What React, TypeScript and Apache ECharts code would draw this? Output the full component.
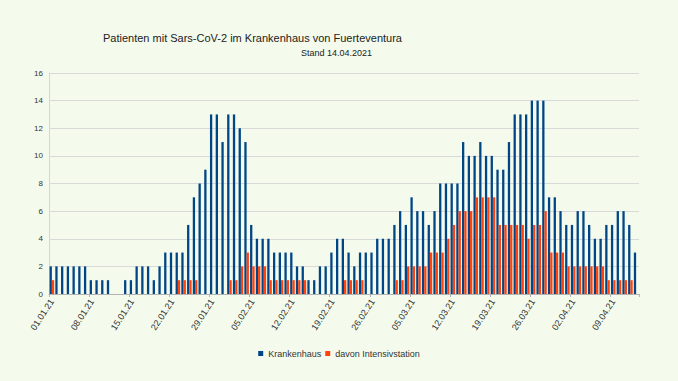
import React, { useEffect, useRef } from "react";
import * as echarts from "echarts";

const dates: string[] = [
  "01.01.21","02.01.21","03.01.21","04.01.21","05.01.21","06.01.21","07.01.21",
  "08.01.21","09.01.21","10.01.21","11.01.21","12.01.21","13.01.21","14.01.21",
  "15.01.21","16.01.21","17.01.21","18.01.21","19.01.21","20.01.21","21.01.21",
  "22.01.21","23.01.21","24.01.21","25.01.21","26.01.21","27.01.21","28.01.21",
  "29.01.21","30.01.21","31.01.21","01.02.21","02.02.21","03.02.21","04.02.21",
  "05.02.21","06.02.21","07.02.21","08.02.21","09.02.21","10.02.21","11.02.21",
  "12.02.21","13.02.21","14.02.21","15.02.21","16.02.21","17.02.21","18.02.21",
  "19.02.21","20.02.21","21.02.21","22.02.21","23.02.21","24.02.21","25.02.21",
  "26.02.21","27.02.21","28.02.21","01.03.21","02.03.21","03.03.21","04.03.21",
  "05.03.21","06.03.21","07.03.21","08.03.21","09.03.21","10.03.21","11.03.21",
  "12.03.21","13.03.21","14.03.21","15.03.21","16.03.21","17.03.21","18.03.21",
  "19.03.21","20.03.21","21.03.21","22.03.21","23.03.21","24.03.21","25.03.21",
  "26.03.21","27.03.21","28.03.21","29.03.21","30.03.21","31.03.21","01.04.21",
  "02.04.21","03.04.21","04.04.21","05.04.21","06.04.21","07.04.21","08.04.21",
  "09.04.21","10.04.21","11.04.21","12.04.21","13.04.21",
];

const krankenhaus: number[] = [
  2, 2, 2, 2, 2, 2, 2,
  1, 1, 1, 1, 0, 0, 1,
  1, 2, 2, 2, 1, 2, 3,
  3, 3, 3, 5, 7, 8, 9,
  13, 13, 11, 13, 13, 12, 11,
  5, 4, 4, 4, 3, 3, 3,
  3, 2, 2, 1, 1, 2, 2,
  3, 4, 4, 3, 2, 3, 3,
  3, 4, 4, 4, 5, 6, 5,
  7, 6, 6, 5, 6, 8, 8,
  8, 8, 11, 10, 10, 11, 10,
  10, 9, 9, 11, 13, 13, 13,
  14, 14, 14, 7, 7, 6, 5,
  5, 6, 6, 5, 4, 4, 5,
  5, 6, 6, 5, 3,
];

const intensiv: number[] = [
  1, 0, 0, 0, 0, 0, 0,
  0, 0, 0, 0, 0, 0, 0,
  0, 0, 0, 0, 0, 0, 0,
  0, 1, 1, 1, 1, 0, 0,
  0, 0, 0, 1, 1, 2, 3,
  2, 2, 2, 1, 1, 1, 1,
  1, 1, 1, 0, 0, 0, 0,
  0, 0, 1, 1, 1, 1, 0,
  0, 0, 0, 0, 1, 1, 2,
  2, 2, 2, 3, 3, 3, 4,
  5, 6, 6, 6, 7, 7, 7,
  7, 5, 5, 5, 5, 5, 4,
  5, 5, 6, 3, 3, 3, 2,
  2, 2, 2, 2, 2, 2, 1,
  1, 1, 1, 1, 0,
];

const yTicks = { min: 0, max: 16, interval: 2 };
const BG = "#f4fbec";

export default function App() {
  const ref = useRef<HTMLDivElement>(null);
  useEffect(() => {
    document.body.style.margin = "0";
    document.body.style.background = BG;
    if (!ref.current) return;
    const chart = echarts.init(ref.current, undefined, { renderer: "svg" });
    chart.setOption({
      animation: false,
      backgroundColor: BG,
      textStyle: { fontFamily: "Liberation Sans" },
      graphic: [
        {
          type: "text",
          left: 103,
          top: 32,
          style: {
            text: "Patienten mit Sars-CoV-2 im Krankenhaus von Fuerteventura",
            font: "11px 'Liberation Sans'",
            fill: "#222",
          },
        },
        {
          type: "text",
          left: 301,
          top: 48,
          style: {
            text: "Stand 14.04.2021",
            font: "9px 'Liberation Sans'",
            fill: "#222",
          },
        },
      ],
      grid: { left: 49, right: 39, top: 73, bottom: 87, containLabel: false },
      legend: {
        data: ["Krankenhaus", "davon Intensivstation"],
        top: 344,
        left: "center",
        itemWidth: 5,
        itemHeight: 5,
        itemGap: 4,
        icon: "rect",
        textStyle: { fontSize: 9, color: "#333", fontFamily: "Liberation Sans" },
      },
      xAxis: {
        type: "category",
        data: dates,
        boundaryGap: true,
        axisLine: { lineStyle: { color: "#b3b3b3" } },
        axisTick: { show: true, interval: 6, length: 3, lineStyle: { color: "#b3b3b3" } },
        axisLabel: {
          interval: 6,
          rotate: 57,
          fontSize: 9,
          margin: 6,
          color: "#333",
          fontFamily: "Liberation Sans",
        },
        splitLine: { show: false },
      },
      yAxis: {
        type: "value",
        min: yTicks.min,
        max: yTicks.max,
        interval: yTicks.interval,
        axisLine: { show: true, lineStyle: { color: "#d6d6d6" } },
        axisTick: { show: false },
        axisLabel: { fontSize: 8, color: "#333", margin: 6, fontFamily: "Liberation Sans" },
        splitLine: { lineStyle: { color: "#d9d9d9", width: 1 } },
      },
      series: [
        {
          name: "Krankenhaus",
          type: "bar",
          data: krankenhaus,
          itemStyle: { color: "#004586" },
          barGap: "0%",
          barCategoryGap: "20%",
        },
        {
          name: "davon Intensivstation",
          type: "bar",
          data: intensiv,
          itemStyle: { color: "#ff420e" },
          barGap: "0%",
          barCategoryGap: "20%",
        },
      ],
    });
    return () => chart.dispose();
  }, []);
  return (
    <div
      ref={ref}
      style={{ position: "fixed", left: 0, top: 0, width: 678, height: 381, background: BG }}
    />
  );
}
